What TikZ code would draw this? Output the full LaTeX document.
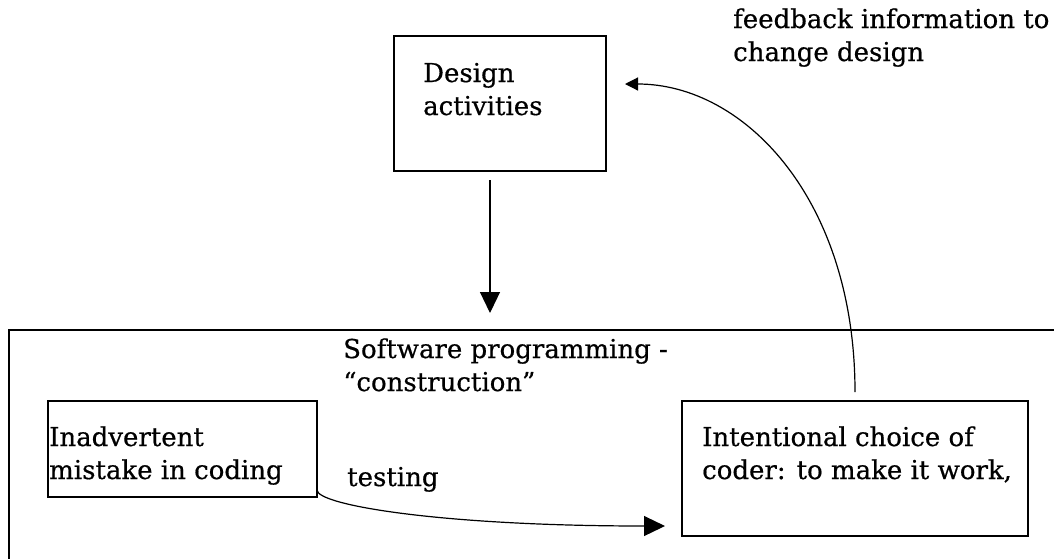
\documentclass[tikz,border=0pt]{standalone}
\usepackage{fontspec}
\newfontfamily\diagfont{DejaVu Serif}[FakeBold=0.6]
\usetikzlibrary{arrows.meta}
\begin{document}
\begin{tikzpicture}[x=1pt,y=-1pt,
  box/.style={draw, line width=1.4pt, inner sep=0pt},
  txt/.style={anchor=base west, inner sep=0pt, font=\diagfont\fontsize{26}{33}\selectfont},
  conn/.style={line width=1.2pt},
  bighead/.style={-{Triangle[length=21pt,width=20pt]}},
  smallhead/.style={-{Triangle[length=13pt,width=13pt]}}]
\useasboundingbox (0,0) rectangle (1054,558);
\begin{scope}
  \clip (0,0) rectangle (1054,558);
  \node[box, minimum width=1100pt, minimum height=260pt] (prog) at (559,460) {};
\end{scope}
\node[box, minimum width=212pt, minimum height=135pt] (design) at (500,103.5) {};
\node[box, minimum width=269pt, minimum height=96pt] (mistake) at (182.5,449) {};
\node[box, minimum width=346pt, minimum height=135pt] (coder) at (855,468.5) {};

\node[txt] (tfeed) at (733,28) {\vtop{\hbox{feedback information to}\hbox{change design}}};
\node[txt] (tdesign) at (423,82) {\vtop{\hbox{Design}\hbox{activities}}};
\node[txt] (tprog) at (343,358) {\vtop{\hbox{Software programming -}\hbox{“construction”}}};
\node[txt] (tmistake) at (49,446) {\vtop{\hbox{Inadvertent}\hbox{mistake in coding}}};
\node[txt] (tcoder) at (702,446) {\vtop{\hbox{Intentional choice of}\hbox{coder: to make it work,}}};
\node[txt] (ttest) at (347,486) {testing};

\coordinate (dstart) at (490,180);
\coordinate (dend) at (490,313);
\draw[conn, bighead] (dstart) -- (dend);

\coordinate (tstart) at (317,490);
\coordinate (tend) at (665,526);
\draw[conn, bighead] (tstart) .. controls (317,505) and (440,526) .. (tend);

\coordinate (fstart) at (855,392);
\coordinate (fend) at (625,84);
\draw[conn, smallhead] (fstart) .. controls (855,200) and (745,84) .. (fend);
\end{tikzpicture}
\end{document}
